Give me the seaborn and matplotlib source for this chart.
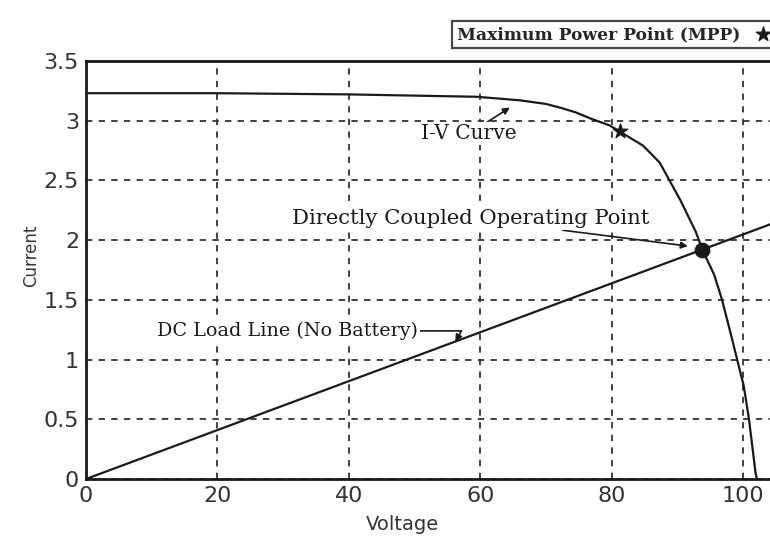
import matplotlib
matplotlib.use("Agg")
import matplotlib.pyplot as plt
import seaborn as sns
import pandas as pd

# ---- data ----
iv_voltage = [0, 20, 40, 59.5, 66.1, 70.0, 72.1, 74.5, 76.7, 79.7, 81.2, 84.8, 87.3, 88.8, 90.5, 92.8,
              93.8, 95.6, 96.8, 98.1, 99.1, 100.1, 100.9, 101.9, 102.1]
iv_current = [3.23, 3.23, 3.22, 3.20, 3.17, 3.14, 3.11, 3.07, 3.02, 2.96, 2.91, 2.79, 2.65, 2.50, 2.33, 2.07,
              1.92, 1.71, 1.50, 1.22, 1.00, 0.78, 0.50, 0.05, 0.0]
load_voltage = [0, 105]
load_current = [0, 2.15]
mpp_voltage = [81.2]
mpp_current = [2.91]
op_voltage = [93.8]
op_current = [1.92]
x_ticks = [0, 20, 40, 60, 80, 100]
y_ticks = [0, 0.5, 1, 1.5, 2, 2.5, 3, 3.5]
y_tick_labels = ["0", "0.5", "1", "1.5", "2", "2.5", "3", "3.5"]

iv_df = pd.DataFrame({"Voltage": iv_voltage, "Current": iv_current})
load_df = pd.DataFrame({"Voltage": load_voltage, "Current": load_current})
mpp_df = pd.DataFrame({"Voltage": mpp_voltage, "Current": mpp_current})
op_df = pd.DataFrame({"Voltage": op_voltage, "Current": op_current})

sns.set_theme(style="white")
plt.rcParams["font.family"] = ["DejaVu Sans"]

fig = plt.figure(figsize=(7.7, 5.38), dpi=100)
ax = fig.add_axes([0.1117, 0.1097, 0.896, 0.777])

ink = "#1a1a1a"
sns.lineplot(data=iv_df, x="Voltage", y="Current", ax=ax, color=ink, lw=1.6, sort=False)
sns.lineplot(data=load_df, x="Voltage", y="Current", ax=ax, color=ink, lw=1.6)
sns.scatterplot(data=mpp_df, x="Voltage", y="Current", ax=ax, marker="*", s=120,
                color=ink, edgecolor=ink, zorder=5, label="Maximum Power Point (MPP)")
sns.scatterplot(data=op_df, x="Voltage", y="Current", ax=ax, marker="o", s=110,
                color=ink, edgecolor=ink, zorder=5, legend=False)

ax.set_xlim(0, 105)
ax.set_ylim(0, 3.5)
ax.set_xticks(x_ticks)
ax.set_yticks(y_ticks)
ax.set_yticklabels(y_tick_labels)
ax.grid(True, color="#333333", linestyle=(0, (3.5, 3.5)), lw=1.3)
ax.tick_params(length=0, labelsize=16, colors="#333333", pad=5)
for side in ["left", "top", "bottom"]:
    ax.spines[side].set_color(ink)
    ax.spines[side].set_linewidth(2)
ax.spines["right"].set_visible(False)
ax.set_xlabel("Voltage", fontsize=14, color="#333333")
ax.set_ylabel("Current", fontsize=12, color="#333333")
ax.xaxis.set_label_coords(0.458, -0.085)
ax.yaxis.set_label_coords(-0.066, 0.535)

box = dict(boxstyle="square,pad=0.1", fc="white", ec="none")
arrow = dict(arrowstyle="-|>", color=ink, lw=1.2, shrinkA=0, shrinkB=0, mutation_scale=10)
ax.annotate("I-V Curve", xy=(64.5, 3.11), xytext=(58.3, 2.89), ha="center", va="center",
            arrowprops=arrow, family="DejaVu Serif", size=14.5, color=ink, bbox=box)
ax.annotate("Directly Coupled Operating Point", xy=(91.6, 1.95), xytext=(85.8, 2.18),
            ha="right", va="center", arrowprops=arrow, family="DejaVu Serif", size=15.2,
            color=ink, bbox=box)
arrow2 = dict(arrow, connectionstyle="angle,angleA=0,angleB=60,rad=0")
ax.annotate("DC Load Line (No Battery)", xy=(56.2, 1.15), xytext=(50.5, 1.24),
            ha="right", va="center", arrowprops=arrow2, family="DejaVu Serif", size=13.8,
            color=ink, bbox=box)

leg = ax.legend(loc="lower left", bbox_to_anchor=(452 / 770, 1 - 48 / 538),
                bbox_transform=fig.transFigure, borderaxespad=0, markerfirst=False,
                frameon=True, fancybox=False, edgecolor=ink, borderpad=0.3,
                handletextpad=0.3, handlelength=2.0,
                prop={"family": ["DejaVu Serif"], "weight": "bold", "size": 12.3})
leg.get_frame().set_linewidth(1.6)

fig.savefig("out.png", dpi=100)
